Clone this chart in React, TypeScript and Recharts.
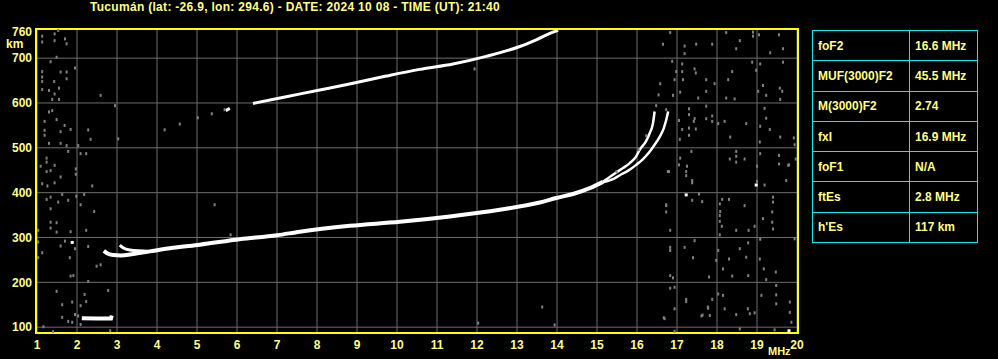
import {
  ComposedChart,
  Line,
  Scatter,
  XAxis,
  YAxis,
  CartesianGrid,
  ReferenceArea,
} from "recharts";

type Pt = { f: number; km: number };

const TITLE = "Tucumán (lat: -26.9, lon: 294.6) - DATE: 2024 10 08 - TIME (UT): 21:40";

const FREQ_TICKS = [1, 2, 3, 4, 5, 6, 7, 8, 9, 10, 11, 12, 13, 14, 15, 16, 17, 18, 19, 20];
const HEIGHT_TICKS = [100, 200, 300, 400, 500, 600, 700];
const TOP_HEIGHT_LABEL = "760";
const FREQ_DOMAIN: [number, number] = [0.975, 20.025];
const HEIGHT_DOMAIN: [number, number] = [87, 765];

// sporadic E trace
const esTrace: Pt[] = [
  { f: 2.12, km: 120 },
  { f: 2.5, km: 119.5 },
  { f: 2.85, km: 119.5 },
  { f: 2.87, km: 126 },
];

// F trace trunk (O and X merged)
const fTrunk: Pt[] = [
  { f: 2.67, km: 270 },
  { f: 2.75, km: 265 },
  { f: 2.9, km: 261 },
  { f: 3.1, km: 260 },
  { f: 3.4, km: 263 },
  { f: 3.82, km: 269 },
  { f: 4.4, km: 277 },
  { f: 5.07, km: 284 },
  { f: 6.07, km: 296 },
  { f: 7.0, km: 305 },
  { f: 7.57, km: 313 },
  { f: 8.82, km: 326 },
  { f: 10.07, km: 335 },
  { f: 11.32, km: 347 },
  { f: 12.57, km: 362 },
  { f: 13.57, km: 378 },
  { f: 13.98, km: 388 },
  { f: 14.4, km: 397 },
  { f: 14.82, km: 410 },
  { f: 15.15, km: 424 },
];

// ordinary branch near the cusp
const fBranchO: Pt[] = [
  { f: 15.15, km: 425 },
  { f: 15.32, km: 435 },
  { f: 15.48, km: 445 },
  { f: 15.65, km: 455 },
  { f: 15.82, km: 466 },
  { f: 15.98, km: 481 },
  { f: 16.07, km: 496 },
  { f: 16.22, km: 514 },
  { f: 16.32, km: 533 },
  { f: 16.4, km: 555 },
  { f: 16.44, km: 581 },
];

// extraordinary branch near the cusp
const fBranchX: Pt[] = [
  { f: 15.15, km: 423 },
  { f: 15.44, km: 432 },
  { f: 15.61, km: 441 },
  { f: 15.78, km: 449 },
  { f: 15.98, km: 462 },
  { f: 16.15, km: 475 },
  { f: 16.32, km: 492 },
  { f: 16.44, km: 507 },
  { f: 16.57, km: 525 },
  { f: 16.67, km: 544 },
  { f: 16.73, km: 562 },
  { f: 16.78, km: 581 },
];

// extraordinary hook at low frequency
const fHookX: Pt[] = [
  { f: 3.07, km: 283 },
  { f: 3.15, km: 277 },
  { f: 3.32, km: 272 },
  { f: 3.82, km: 269 },
];

// second hop F trace
const fSecondHop: Pt[] = [
  { f: 6.4, km: 599 },
  { f: 7.23, km: 614 },
  { f: 8.07, km: 629 },
  { f: 8.9, km: 644 },
  { f: 9.73, km: 660 },
  { f: 10.57, km: 675 },
  { f: 11.4, km: 687 },
  { f: 12.23, km: 704 },
  { f: 13.07, km: 726 },
  { f: 13.48, km: 741 },
  { f: 13.9, km: 758 },
  { f: 14.03, km: 762 },
];

const fSecondHopStub: Pt[] = [
  { f: 5.72, km: 583 },
  { f: 5.82, km: 588 },
];

const noiseLow: Pt[] = [
  { f: 1.13, km: 749 }, { f: 1.44, km: 754 }, { f: 1.53, km: 762 }, { f: 1.7, km: 743 },
  { f: 1.74, km: 732 }, { f: 1.13, km: 736 }, { f: 1.44, km: 739 }, { f: 1.34, km: 692 },
  { f: 1.49, km: 702 }, { f: 1.13, km: 670 }, { f: 1.13, km: 658 }, { f: 1.13, km: 648 },
  { f: 1.43, km: 648 }, { f: 1.74, km: 669 }, { f: 1.59, km: 669 }, { f: 1.3, km: 628 },
  { f: 1.13, km: 630 }, { f: 1.55, km: 633 }, { f: 1.44, km: 620 }, { f: 1.38, km: 608 },
  { f: 1.55, km: 608 }, { f: 1.74, km: 654 }, { f: 1.95, km: 678 }, { f: 2.59, km: 617 },
  { f: 1.38, km: 583 }, { f: 1.3, km: 580 }, { f: 1.49, km: 563 }, { f: 1.19, km: 559 },
  { f: 1.69, km: 550 }, { f: 1.84, km: 541 }, { f: 1.19, km: 539 }, { f: 1.59, km: 536 },
  { f: 1.19, km: 528 }, { f: 1.3, km: 510 }, { f: 1.59, km: 510 }, { f: 1.74, km: 505 },
  { f: 2.28, km: 540 }, { f: 2.34, km: 519 }, { f: 2.03, km: 505 }, { f: 2.95, km: 594 },
  { f: 3.03, km: 520 }, { f: 1.78, km: 492 }, { f: 1.24, km: 477 }, { f: 1.24, km: 468 },
  { f: 1.44, km: 461 }, { f: 1.09, km: 459 }, { f: 1.34, km: 449 }, { f: 1.24, km: 447 },
  { f: 1.97, km: 453 }, { f: 1.59, km: 435 }, { f: 1.44, km: 422 }, { f: 1.13, km: 420 },
  { f: 1.26, km: 415 }, { f: 1.97, km: 441 }, { f: 2.09, km: 487 }, { f: 2.23, km: 487 },
  { f: 2.38, km: 415 }, { f: 1.63, km: 396 }, { f: 1.34, km: 390 }, { f: 1.24, km: 385 },
  { f: 1.34, km: 364 }, { f: 1.53, km: 379 }, { f: 1.78, km: 383 }, { f: 1.98, km: 392 },
  { f: 2.18, km: 396 }, { f: 2.09, km: 373 }, { f: 2.43, km: 358 }, { f: 1.34, km: 334 },
  { f: 1.49, km: 333 }, { f: 1.34, km: 321 }, { f: 1.49, km: 312 }, { f: 1.84, km: 313 },
  { f: 1.03, km: 316 }, { f: 2.23, km: 316 }, { f: 1.7, km: 292 }, { f: 1.03, km: 290 },
  { f: 1.03, km: 255 }, { f: 1.13, km: 266 }, { f: 1.59, km: 281 }, { f: 1.82, km: 255 },
  { f: 1.95, km: 275 }, { f: 2.28, km: 280 }, { f: 1.91, km: 215 }, { f: 1.84, km: 214 },
  { f: 2.49, km: 236 }, { f: 2.59, km: 239 }, { f: 2.28, km: 202 }, { f: 1.49, km: 180 },
  { f: 1.63, km: 150 }, { f: 1.88, km: 156 }, { f: 2.23, km: 157 }, { f: 2.09, km: 148 },
  { f: 2.19, km: 173 }, { f: 2.78, km: 182 }, { f: 1.95, km: 128 }, { f: 1.63, km: 122 },
  { f: 1.78, km: 113 }, { f: 1.88, km: 111 }, { f: 2.03, km: 125 }, { f: 1.16, km: 101 },
  { f: 2.09, km: 106 }, { f: 2.83, km: 92 }, { f: 1.4, km: 90 },
];

const noiseMid: Pt[] = [
  { f: 4.19, km: 540 }, { f: 4.57, km: 553 }, { f: 5.02, km: 567 }, { f: 5.37, km: 576 },
  { f: 5.69, km: 585 }, { f: 5.44, km: 373 }, { f: 5.84, km: 306 }, { f: 12.03, km: 109 },
  { f: 13.94, km: 105 }, { f: 13.63, km: 145 }, { f: 11.94, km: 676 }, { f: 16.48, km: 594 },
  { f: 16.73, km: 585 }, { f: 16.23, km: 527 }, { f: 16.04, km: 496 }, { f: 15.49, km: 447 },
  { f: 16.77, km: 447 }, { f: 16.73, km: 371 }, { f: 16.67, km: 121 }, { f: 16.94, km: 91 },
];

const noiseHigh: Pt[] = [
  { f: 16.83, km: 757 }, { f: 16.65, km: 731 }, { f: 17.19, km: 710 }, { f: 17.19, km: 727 },
  { f: 17.48, km: 731 }, { f: 17.88, km: 731 }, { f: 18.23, km: 757 }, { f: 18.57, km: 739 },
  { f: 18.9, km: 758 }, { f: 18.9, km: 749 }, { f: 19.05, km: 752 }, { f: 19.55, km: 752 },
  { f: 19.65, km: 721 }, { f: 19.33, km: 712 }, { f: 18.48, km: 721 }, { f: 16.88, km: 693 },
  { f: 17.13, km: 687 }, { f: 16.98, km: 670 }, { f: 17.13, km: 670 }, { f: 17.44, km: 676 },
  { f: 17.47, km: 667 }, { f: 16.94, km: 652 }, { f: 17.15, km: 652 }, { f: 17.73, km: 652 },
  { f: 17.94, km: 643 }, { f: 16.58, km: 643 }, { f: 17.08, km: 624 }, { f: 17.73, km: 626 },
  { f: 17.53, km: 611 }, { f: 16.9, km: 617 }, { f: 16.54, km: 618 }, { f: 18.23, km: 611 },
  { f: 18.44, km: 609 }, { f: 18.38, km: 670 }, { f: 18.28, km: 652 }, { f: 18.98, km: 673 },
  { f: 19.08, km: 687 }, { f: 19.03, km: 626 }, { f: 19.15, km: 639 }, { f: 19.23, km: 617 },
  { f: 19.57, km: 633 }, { f: 19.63, km: 626 }, { f: 19.58, km: 608 }, { f: 18.88, km: 691 },
  { f: 19.65, km: 691 }, { f: 17.3, km: 587 }, { f: 17.3, km: 574 }, { f: 17.44, km: 565 },
  { f: 17.05, km: 561 }, { f: 17.13, km: 541 }, { f: 17.3, km: 544 }, { f: 17.47, km: 542 },
  { f: 17.3, km: 528 }, { f: 17.42, km: 559 }, { f: 17.73, km: 593 }, { f: 17.88, km: 571 },
  { f: 17.88, km: 559 }, { f: 17.73, km: 565 }, { f: 18.19, km: 559 }, { f: 18.03, km: 554 },
  { f: 18.73, km: 554 }, { f: 18.33, km: 524 }, { f: 19.08, km: 548 }, { f: 19.19, km: 588 },
  { f: 19.23, km: 566 }, { f: 19.32, km: 541 }, { f: 19.07, km: 513 }, { f: 19.58, km: 524 },
  { f: 19.92, km: 522 }, { f: 19.94, km: 507 }, { f: 19.97, km: 475 }, { f: 19.8, km: 462 },
  { f: 17.07, km: 519 }, { f: 17.36, km: 492 }, { f: 17.08, km: 477 }, { f: 17.05, km: 462 },
  { f: 17.25, km: 459 }, { f: 17.23, km: 447 }, { f: 17.23, km: 438 }, { f: 17.38, km: 427 },
  { f: 17.38, km: 422 }, { f: 16.8, km: 447 }, { f: 18.48, km: 492 }, { f: 18.48, km: 481 },
  { f: 18.32, km: 475 }, { f: 18.69, km: 475 }, { f: 18.48, km: 468 }, { f: 19.0, km: 459 },
  { f: 19.08, km: 487 }, { f: 19.19, km: 417 }, { f: 19.0, km: 425 }, { f: 19.55, km: 483 },
  { f: 19.55, km: 464 }, { f: 19.78, km: 461 }, { f: 19.73, km: 427 }, { f: 17.55, km: 397 },
  { f: 17.63, km: 380 }, { f: 17.38, km: 383 }, { f: 16.73, km: 373 }, { f: 16.73, km: 357 },
  { f: 18.13, km: 385 }, { f: 18.07, km: 375 }, { f: 18.08, km: 358 }, { f: 18.07, km: 349 },
  { f: 18.07, km: 336 }, { f: 18.12, km: 325 }, { f: 18.3, km: 385 }, { f: 18.48, km: 316 },
  { f: 18.69, km: 371 }, { f: 18.94, km: 325 }, { f: 18.79, km: 316 }, { f: 19.15, km: 342 },
  { f: 19.4, km: 390 }, { f: 19.4, km: 379 }, { f: 19.38, km: 357 }, { f: 19.38, km: 334 },
  { f: 19.4, km: 319 }, { f: 16.83, km: 316 }, { f: 18.07, km: 306 }, { f: 17.44, km: 293 },
  { f: 17.19, km: 278 }, { f: 16.83, km: 278 }, { f: 16.83, km: 271 }, { f: 17.4, km: 255 },
  { f: 18.03, km: 271 }, { f: 17.98, km: 249 }, { f: 18.3, km: 252 }, { f: 18.15, km: 230 },
  { f: 18.38, km: 214 }, { f: 17.8, km: 212 }, { f: 16.83, km: 215 }, { f: 16.9, km: 210 },
  { f: 18.57, km: 275 }, { f: 18.78, km: 288 }, { f: 18.73, km: 256 }, { f: 18.78, km: 215 },
  { f: 19.08, km: 296 }, { f: 19.07, km: 252 }, { f: 19.23, km: 206 }, { f: 19.47, km: 223 },
  { f: 19.94, km: 297 }, { f: 19.17, km: 230 }, { f: 16.83, km: 187 }, { f: 16.94, km: 189 },
  { f: 16.94, km: 141 }, { f: 16.69, km: 119 }, { f: 17.23, km: 162 }, { f: 17.23, km: 157 },
  { f: 17.61, km: 125 }, { f: 17.82, km: 126 }, { f: 17.88, km: 162 }, { f: 17.78, km: 142 },
  { f: 18.03, km: 174 }, { f: 18.15, km: 171 }, { f: 18.19, km: 141 }, { f: 18.48, km: 128 },
  { f: 18.82, km: 130 }, { f: 18.94, km: 132 }, { f: 19.11, km: 171 }, { f: 19.48, km: 193 },
  { f: 19.48, km: 172 }, { f: 19.48, km: 152 }, { f: 19.82, km: 156 }, { f: 19.82, km: 133 },
  { f: 19.86, km: 111 }, { f: 17.64, km: 127 }, { f: 17.77, km: 145 }, { f: 18.77, km: 141 },
  { f: 18.57, km: 96 }, { f: 19.44, km: 94 },
];

const whiteSpecks: Pt[] = [
  { f: 1.88, km: 289 },
  { f: 18.98, km: 417 },
  { f: 17.23, km: 395 },
  { f: 19.8, km: 92 },
];

const TABLE_ROWS: [string, string][] = [
  ["foF2", "16.6 MHz"],
  ["MUF(3000)F2", "45.5 MHz"],
  ["M(3000)F2", "2.74"],
  ["fxI", "16.9 MHz"],
  ["foF1", "N/A"],
  ["ftEs", "2.8 MHz"],
  ["h'Es", "117 km"],
];

const YELLOW_TEXT = "#ffff80";
const BORDER_YELLOW = "#ffff00";
const GRID_GRAY = "#6e6e6e";
const NOISE_GRAY = "#808080";
const CYAN = "#10e8f0";
const FONT = "'Liberation Sans', Arial, sans-serif";

function NoiseDot(props: any) {
  const { cx, cy } = props;
  if (cx == null || cy == null) return null;
  return <rect x={cx - 1} y={cy - 1.5} width={2} height={3} fill={NOISE_GRAY} />;
}

function WhiteDot(props: any) {
  const { cx, cy } = props;
  if (cx == null || cy == null) return null;
  return <rect x={cx - 1.5} y={cy - 1.5} width={3} height={3} fill="#ffffff" />;
}

const tickStyle = {
  fill: YELLOW_TEXT,
  fontSize: 12,
  fontWeight: "bold",
  fontFamily: FONT,
};

export default function App() {
  return (
    <div
      style={{
        position: "absolute",
        left: 0,
        top: 0,
        width: 998,
        height: 359,
        background: "#000",
        overflow: "hidden",
        fontFamily: FONT,
        fontWeight: "bold",
        color: YELLOW_TEXT,
      }}
    >
      <div
        style={{
          position: "absolute",
          left: 0,
          top: 0,
          width: 590,
          textAlign: "center",
          fontSize: 12,
          lineHeight: "14px",
          letterSpacing: 0.3,
          whiteSpace: "nowrap",
        }}
      >
        {TITLE}
      </div>
      <div style={{ position: "absolute", left: 11, top: 25, width: 21, textAlign: "right", fontSize: 12, lineHeight: "14px" }}>
        {TOP_HEIGHT_LABEL}
      </div>
      <div style={{ position: "absolute", left: 6, top: 37, fontSize: 12, lineHeight: "14px" }}>km</div>
      <div style={{ position: "absolute", left: 768, top: 345, fontSize: 11, lineHeight: "13px" }}>MHz</div>

      <div style={{ position: "absolute", left: 0, top: 0 }}>
        <ComposedChart
          width={998}
          height={359}
          margin={{ top: 29, right: 200, bottom: 0, left: 0 }}
        >
          <CartesianGrid stroke={GRID_GRAY} strokeWidth={1} />
          <XAxis
            type="number"
            dataKey="f"
            domain={FREQ_DOMAIN}
            ticks={FREQ_TICKS}
            interval={0}
            allowDataOverflow
            axisLine={false}
            tickLine={false}
            tickSize={0}
            tickMargin={7}
            height={26}
            tick={tickStyle}
          />
          <YAxis
            type="number"
            dataKey="km"
            domain={HEIGHT_DOMAIN}
            ticks={HEIGHT_TICKS}
            interval={0}
            allowDataOverflow
            axisLine={false}
            tickLine={false}
            tickSize={0}
            tickMargin={4}
            width={36}
            tick={tickStyle}
          />
          <Scatter data={noiseLow} shape={NoiseDot} isAnimationActive={false} />
          <Scatter data={noiseMid} shape={NoiseDot} isAnimationActive={false} />
          <Scatter data={noiseHigh} shape={NoiseDot} isAnimationActive={false} />
          <Line data={esTrace} dataKey="km" type="linear" stroke="#fff" strokeWidth={4} dot={false} isAnimationActive={false} />
          <Line data={fTrunk} dataKey="km" type="monotone" stroke="#fff" strokeWidth={4} dot={false} isAnimationActive={false} />
          <Line data={fBranchO} dataKey="km" type="monotone" stroke="#fff" strokeWidth={2.5} dot={false} isAnimationActive={false} />
          <Line data={fBranchX} dataKey="km" type="monotone" stroke="#fff" strokeWidth={2.5} dot={false} isAnimationActive={false} />
          <Line data={fHookX} dataKey="km" type="monotone" stroke="#fff" strokeWidth={3} dot={false} isAnimationActive={false} />
          <Line data={fSecondHop} dataKey="km" type="monotone" stroke="#fff" strokeWidth={3} dot={false} isAnimationActive={false} />
          <Line data={fSecondHopStub} dataKey="km" type="linear" stroke="#fff" strokeWidth={3} dot={false} isAnimationActive={false} />
          <Scatter data={whiteSpecks} shape={WhiteDot} isAnimationActive={false} />
          <ReferenceArea
            x1={FREQ_DOMAIN[0]}
            x2={FREQ_DOMAIN[1]}
            y1={HEIGHT_DOMAIN[0]}
            y2={HEIGHT_DOMAIN[1]}
            fill="none"
            fillOpacity={0}
            stroke={BORDER_YELLOW}
            strokeWidth={2}
            ifOverflow="visible"
          />
        </ComposedChart>
      </div>

      <table
        style={{
          position: "absolute",
          left: 812,
          top: 30,
          width: 166,
          borderCollapse: "collapse",
          fontSize: 12,
          color: YELLOW_TEXT,
        }}
      >
        <tbody>
          {TABLE_ROWS.map(([k, v]) => (
            <tr key={k} style={{ height: 30.3 }}>
              <td style={{ border: `1px solid ${CYAN}`, width: 90, paddingLeft: 5, paddingTop: 0, paddingBottom: 0 }}>{k}</td>
              <td style={{ border: `1px solid ${CYAN}`, paddingLeft: 5, paddingTop: 0, paddingBottom: 0 }}>{v}</td>
            </tr>
          ))}
        </tbody>
      </table>
    </div>
  );
}
